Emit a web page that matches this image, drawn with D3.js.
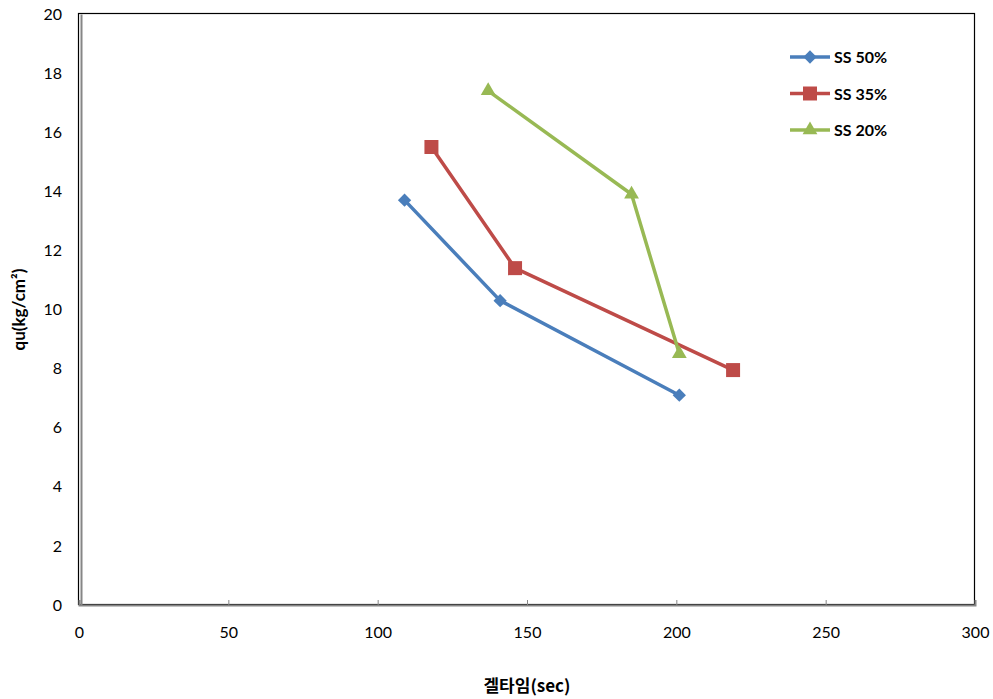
<!DOCTYPE html>
<html>
<head>
<meta charset="utf-8">
<script src="https://cdn.jsdelivr.net/npm/d3@7"></script>
<style>
  html, body { margin: 0; padding: 0; background: #fff; }
  svg { display: block; }
  text { font-family: Lato, "Noto Sans", "Noto Sans CJK KR", sans-serif; }
</style>
</head>
<body>
<svg id="chart" width="993" height="699"></svg>
<script>
// Gel time (sec) vs unconfined compressive strength qu (kg/cm²)
const seriesNames = ["SS 50%", "SS 35%", "SS 20%"];
const gelTime50 = [109, 141, 201];
const qu50      = [13.7, 10.3, 7.1];
const gelTime35 = [118, 146, 219];
const qu35      = [15.5, 11.4, 7.95];
const gelTime20 = [137, 185, 201];
const qu20      = [17.4, 13.9, 8.5];
const xTicks = [0, 50, 100, 150, 200, 250, 300];
const yTicks = [0, 2, 4, 6, 8, 10, 12, 14, 16, 18, 20];

const colors = ["#4a7ebb", "#be4b48", "#98b954"];
// square diamond = square rotated 45°
const symbols = [d3.symbolSquare, d3.symbolSquare, d3.symbolTriangle];
const symbolRotate = [45, 0, 0];
const symbolSizes = [88, 196, 95];

const series = [
  { name: seriesNames[0], xs: gelTime50, ys: qu50 },
  { name: seriesNames[1], xs: gelTime35, ys: qu35 },
  { name: seriesNames[2], xs: gelTime20, ys: qu20 }
];

const svg = d3.select("#chart");
const plot = { left: 79, top: 14, right: 975, bottom: 605 };

const x = d3.scaleLinear().domain([0, 300]).range([plot.left, plot.right]);
const y = d3.scaleLinear().domain([0, 20]).range([plot.bottom, plot.top]);

// plot frame
svg.append("rect")
  .attr("x", plot.left - 0.5).attr("y", plot.top - 0.5)
  .attr("width", plot.right - plot.left).attr("height", plot.bottom - plot.top)
  .attr("fill", "none").attr("stroke", "#000").attr("stroke-width", 1.2);

// x axis
const xAxis = svg.append("g").attr("transform", `translate(0,${plot.bottom})`)
  .call(d3.axisBottom(x).tickValues(xTicks).tickSize(-5).tickPadding(22).tickFormat(d3.format("d")));
xAxis.select(".domain").attr("stroke", "#868686").attr("stroke-width", 2);
xAxis.selectAll(".tick line").attr("stroke", "#868686");
xAxis.selectAll(".tick text").attr("font-size", 16).attr("fill", "#000");

// y axis
const yAxis = svg.append("g").attr("transform", `translate(${plot.left + 2},0)`)
  .call(d3.axisLeft(y).tickValues(yTicks).tickSize(0).tickPadding(19).tickFormat(d3.format("d")));
yAxis.select(".domain").attr("stroke", "#868686").attr("stroke-width", 2);
yAxis.selectAll(".tick text").attr("font-size", 16).attr("fill", "#000");

// axis titles
svg.append("text")
  .attr("x", (plot.left + plot.right) / 2).attr("y", 692)
  .attr("text-anchor", "middle").attr("font-size", 17).attr("font-weight", "bold")
  .style("font-family", "'Noto Sans CJK KR', sans-serif")
  .text("겔타임(sec)");

svg.append("text")
  .attr("transform", `translate(25,${(plot.top + plot.bottom) / 2}) rotate(-90)`)
  .attr("text-anchor", "middle").attr("font-size", 17).attr("font-weight", "bold")
  .text("qu(kg/cm²)");

// series lines and markers
const line = d3.line().x(d => x(d[0])).y(d => y(d[1]));

series.forEach((s, i) => {
  const pts = s.xs.map((v, j) => [v, s.ys[j]]);
  svg.append("path")
    .datum(pts)
    .attr("d", line)
    .attr("fill", "none")
    .attr("stroke", colors[i])
    .attr("stroke-width", 3.5)
    .attr("stroke-linejoin", "round");
  svg.selectAll(null)
    .data(pts)
    .enter().append("path")
    .attr("transform", d => `translate(${x(d[0])},${y(d[1])}) rotate(${symbolRotate[i]})`)
    .attr("d", d3.symbol().type(symbols[i]).size(symbolSizes[i]))
    .attr("fill", colors[i]);
});

// legend
const legend = svg.append("g").attr("transform", "translate(790,57)");
series.forEach((s, i) => {
  const g = legend.append("g").attr("transform", `translate(0,${i * 36.5})`);
  g.append("line").attr("x1", 0).attr("x2", 40).attr("y1", 0).attr("y2", 0)
    .attr("stroke", colors[i]).attr("stroke-width", 3.5);
  g.append("path").attr("transform", `translate(20,0) rotate(${symbolRotate[i]})`)
    .attr("d", d3.symbol().type(symbols[i]).size(symbolSizes[i]))
    .attr("fill", colors[i]);
  g.append("text").attr("x", 44).attr("y", 6)
    .attr("font-size", 16).attr("font-weight", "bold").attr("fill", "#000")
    .text(s.name);
});
</script>
</body>
</html>
